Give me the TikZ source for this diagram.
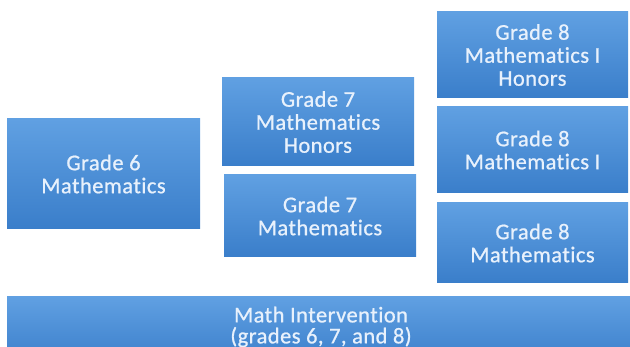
\documentclass[tikz,border=0pt]{standalone}
\usepackage{fontspec}
\setmainfont{Carlito}[Ligatures=NoCommon, FakeBold=0.8, LetterSpace=2]
\begin{document}
\begin{tikzpicture}[x=1pt,y=-1pt,
  box/.style={rectangle, inner sep=0pt, align=center, text=txtc,
    top color=boxtop, bottom color=boxbot, draw=none,
    font=\fontsize{22.5}{23}\selectfont},
]
\definecolor{boxtop}{RGB}{96,160,226}
\definecolor{boxbot}{RGB}{58,126,202}
\definecolor{txtc}{RGB}{232,241,252}
\useasboundingbox (0,0) rectangle (630,347);
\begin{scope}
\clip (0,0) rectangle (630,347);
\node[box, minimum width=193pt, minimum height=110pt] (g6) at (103.5,174) {Grade 6\\Mathematics};
\node[box, minimum width=192pt, minimum height=88pt] (g7h) at (318,122) {Grade 7\\Mathematics\\Honors};
\node[box, minimum width=192pt, minimum height=82pt] (g7) at (320,216) {Grade 7\\Mathematics};
\node[box, minimum width=191pt, minimum height=86pt] (g8h) at (532.5,55) {Grade 8\\Mathematics I\\Honors};
\node[box, minimum width=191pt, minimum height=86pt] (g8i) at (532.5,150) {Grade 8\\Mathematics I};
\node[box, minimum width=191pt, minimum height=80pt] (g8) at (532.5,243) {Grade 8\\Mathematics};
\node[box, minimum width=626pt, minimum height=68pt] (mi) at (320,331) {};
\node[align=center, text=txtc, inner sep=0pt, font=\fontsize{22.5}{21}\selectfont] (mitext) at (321,327) {Math Intervention\\(grades 6, 7, and 8)};
\end{scope}
\end{tikzpicture}
\end{document}
